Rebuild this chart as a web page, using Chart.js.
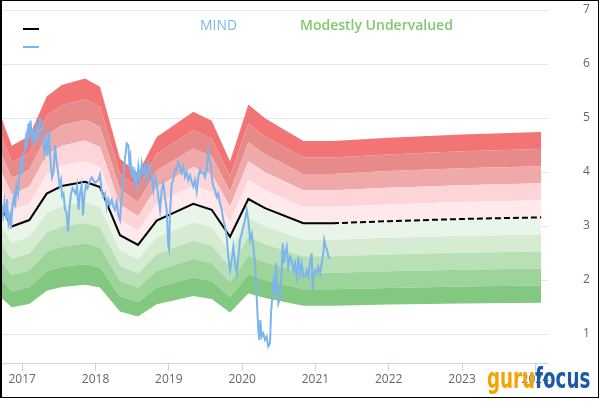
<!DOCTYPE html>
<html lang="en">
<head>
  <meta charset="UTF-8">
  <title>MIND | GF Value</title>
  <script src="https://cdn.jsdelivr.net/npm/chart.js@4.4.0/dist/chart.umd.min.js"></script>
  <style>
    body { margin: 0; background: #fff; font-family: 'Open Sans', sans-serif; }
    #frame { position: absolute; left: 0; top: 0; width: 596px; height: 396px;
             border: 1px solid #000; border-left-width: 2px; }
    #frame canvas { display: block; }
    .title { position: absolute; top: 15px; font-size: 14px; line-height: 19px; white-space: nowrap; }
    .legend-line { position: absolute; left: 23px; width: 16px; height: 2px; }
    #logo { position: absolute; left: 487px; top: 364px; font: bold 29px 'Liberation Sans Narrow', 'DejaVu Sans Condensed', sans-serif;
            line-height: 29px; white-space: nowrap; transform: scaleX(0.70); transform-origin: left top; }
  </style>
</head>
<body>

<div id="frame">
  <canvas id="gfChart" width="596" height="396"></canvas>
</div>

<!-- top texts and legend symbols -->
<div class="title" style="left:200px; color:#7cb5ec;">MIND</div>
<div class="title" style="left:300px; color:#80c96e; font-weight:600;">Modestly Undervalued</div>
<div class="legend-line" style="top:28px; background:#000;"></div>
<div class="legend-line" style="top:46px; background:#7cb5ec;"></div>
<div id="logo"><span style="color:#f5a300">guru</span><span style="color:#1b5aa6">focus</span></div>

<script>
// GF Value line (decimal years), projection after the last solid point
const gfDates  = [2016.697, 2016.857, 2017.097, 2017.334, 2017.539, 2017.857, 2018.061, 2018.334, 2018.580, 2018.835,
                  2019.334, 2019.585, 2019.835, 2020.085, 2020.312, 2020.835, 2021.240, 2022.0, 2023.0, 2024.08];
const gfValues = [3.38, 2.99, 3.11, 3.60, 3.74, 3.82, 3.72, 2.83, 2.65, 3.10,
                  3.41, 3.30, 2.80, 3.50, 3.33, 3.05, 3.05, 3.09, 3.13, 3.16];
const projectionStart = 2021.240;

// band edges as multiples of the GF Value, and fill colours from bottom band to top band
const bandFactors = [0.5, 0.6, 0.7, 0.8, 0.9, 1.0, 1.1, 1.2, 1.3, 1.4, 1.5];
const bandColors  = ['#82c881', '#9dd49a', '#b9dfb6', '#d5ebd2', '#eaf5e9',
                     '#ffe9ec', '#fdd5d9', '#f0a9a9', '#e88a8a', '#f27474'];

// share price
const priceDates = [
  2016.697, 2016.704, 2016.717, 2016.738, 2016.758, 2016.779, 2016.792, 2016.813, 2016.833, 2016.847,
  2016.868, 2016.888, 2016.902, 2016.922, 2016.943, 2016.963, 2016.984, 2016.997, 2017.011, 2017.031,
  2017.052, 2017.065, 2017.086, 2017.099, 2017.113, 2017.134, 2017.154, 2017.175, 2017.195, 2017.215,
  2017.243, 2017.263, 2017.284, 2017.304, 2017.325, 2017.345, 2017.366, 2017.386, 2017.406, 2017.427,
  2017.447, 2017.468, 2017.488, 2017.509, 2017.529, 2017.543, 2017.563, 2017.584, 2017.604, 2017.625,
  2017.645, 2017.666, 2017.686, 2017.707, 2017.727, 2017.748, 2017.768, 2017.788, 2017.809, 2017.829,
  2017.850, 2017.870, 2017.891, 2017.911, 2017.948, 2017.993, 2018.038, 2018.061, 2018.084, 2018.106,
  2018.129, 2018.153, 2018.174, 2018.198, 2018.221, 2018.243, 2018.266, 2018.289, 2018.311, 2018.334,
  2018.357, 2018.379, 2018.402, 2018.426, 2018.447, 2018.461, 2018.475, 2018.494, 2018.507, 2018.525,
  2018.539, 2018.562, 2018.584, 2018.607, 2018.630, 2018.652, 2018.675, 2018.698, 2018.720, 2018.743,
  2018.767, 2018.789, 2018.812, 2018.835, 2018.857, 2018.880, 2018.903, 2018.925, 2018.948, 2018.971,
  2018.993, 2019.003, 2019.016, 2019.039, 2019.061, 2019.085, 2019.108, 2019.129, 2019.153, 2019.176,
  2019.198, 2019.221, 2019.244, 2019.266, 2019.289, 2019.312, 2019.334, 2019.357, 2019.380, 2019.402,
  2019.426, 2019.449, 2019.471, 2019.494, 2019.517, 2019.539, 2019.553, 2019.572, 2019.585, 2019.607,
  2019.630, 2019.653, 2019.675, 2019.698, 2019.722, 2019.743, 2019.767, 2019.790, 2019.812, 2019.835,
  2019.858, 2019.880, 2019.903, 2019.926, 2019.948, 2019.971, 2019.994, 2020.016, 2020.040, 2020.063,
  2020.085, 2020.108, 2020.131, 2020.153, 2020.176, 2020.199, 2020.221, 2020.235, 2020.248, 2020.267,
  2020.289, 2020.312, 2020.335, 2020.357, 2020.381, 2020.394, 2020.412, 2020.431, 2020.449, 2020.462,
  2020.476, 2020.494, 2020.517, 2020.540, 2020.554, 2020.572, 2020.585, 2020.608, 2020.630, 2020.653,
  2020.677, 2020.699, 2020.722, 2020.745, 2020.767, 2020.790, 2020.813, 2020.835, 2020.858, 2020.881,
  2020.903, 2020.926, 2020.949, 2020.963, 2020.977, 2020.994, 2021.017, 2021.039, 2021.063, 2021.086,
  2021.108, 2021.121, 2021.140, 2021.158, 2021.176, 2021.203
];
const priceValues = [
  3.30, 2.90, 3.40, 3.20, 3.45, 3.15, 3.50, 3.05, 3.20, 2.95,
  3.40, 3.55, 3.35, 3.75, 3.60, 3.95, 4.15, 3.95, 4.30, 4.40,
  4.65, 4.45, 4.90, 4.75, 4.95, 4.60, 4.75, 4.50, 4.85, 4.70,
  4.98, 4.95, 4.60, 4.35, 4.60, 4.30, 4.75, 4.20, 3.90, 4.00,
  4.50, 4.20, 4.00, 3.75, 3.85, 3.55, 3.60, 3.30, 3.25, 2.90,
  3.35, 3.60, 3.70, 3.65, 3.60, 3.75, 3.30, 3.60, 3.75, 3.20,
  3.60, 3.75, 3.70, 3.80, 3.90, 3.80, 3.85, 3.95, 3.65, 3.54,
  3.60, 3.35, 3.50, 3.39, 3.48, 3.36, 3.30, 3.45, 3.20, 3.11,
  3.54, 3.91, 4.25, 4.53, 4.50, 4.16, 4.28, 3.91, 4.10, 3.85,
  3.98, 3.73, 4.10, 3.85, 4.16, 3.98, 4.10, 3.85, 4.16, 4.04,
  3.91, 3.67, 3.91, 3.79, 3.54, 3.30, 3.67, 3.79, 3.54, 3.30,
  2.63, 2.57, 3.24, 3.79, 3.85, 4.05, 4.04, 4.19, 4.10, 3.98,
  4.10, 3.91, 4.00, 3.85, 3.94, 3.82, 3.73, 3.85, 3.64, 3.91,
  4.04, 3.98, 4.00, 3.91, 4.04, 4.38, 4.22, 4.16, 3.91, 3.73,
  3.67, 3.54, 3.60, 3.42, 3.30, 3.11, 2.99, 2.80, 2.43, 2.18,
  2.37, 2.62, 2.31, 2.12, 2.43, 2.74, 2.86, 2.99, 3.11, 3.30,
  3.11, 2.74, 2.86, 2.62, 2.31, 1.68, 1.07, 0.89, 1.26, 0.95,
  1.01, 0.89, 0.95, 0.77, 0.83, 1.38, 1.68, 2.00, 1.81, 2.31,
  2.00, 1.57, 1.68, 2.18, 2.68, 2.31, 2.49, 2.62, 2.24, 2.43,
  2.37, 2.18, 2.31, 2.06, 2.43, 2.12, 2.31, 2.06, 2.06, 2.18,
  2.06, 2.31, 2.49, 1.81, 2.12, 2.18, 2.12, 2.24, 2.12, 2.31,
  2.49, 2.74, 2.62, 2.56, 2.43, 2.40
];

const yearMin = 2016.724, yearMax = 2024.173;
const priceMin = 0.463, priceMax = 7;

// --- build datasets ---
const toPoints = (xs, ys) => xs.map((x, i) => ({ x: x, y: ys[i] }));

const bandSets = bandFactors.map((f, i) => ({
  data: toPoints(gfDates, gfValues.map(v => v * f)),
  borderWidth: 0,
  pointRadius: 0,
  fill: i === 0 ? false : '-1',
  backgroundColor: i === 0 ? 'transparent' : bandColors[i - 1],
  order: 3,
  clip: 0
}));

const gfLine = {
  data: toPoints(gfDates, gfValues),
  borderColor: '#000',
  borderWidth: 2,
  pointRadius: 0,
  fill: false,
  order: 2,
  clip: 0,
  segment: {
    borderDash: ctx => ctx.p0.parsed.x >= projectionStart - 1e-6 ? [6, 3] : undefined
  }
};

const priceLine = {
  data: toPoints(priceDates, priceValues),
  borderColor: '#7cb5ec',
  borderWidth: 2,
  pointRadius: 0,
  fill: false,
  order: 1,
  clip: 0
};

Chart.defaults.font.family = "'Open Sans', sans-serif";

// tick padding also pads the axis ends in Chart.js, so drop that after fitting
function noEndPadding(s) {
  s.paddingTop = 0; s.paddingBottom = 0; s.paddingLeft = 0; s.paddingRight = 0;
}

new Chart(document.getElementById('gfChart'), {
  type: 'line',
  data: { datasets: bandSets.concat([gfLine, priceLine]) },
  options: {
    responsive: false,
    animation: false,
    layout: { padding: { top: 9, left: 0, right: 0, bottom: 0 } },
    plugins: { legend: { display: false }, tooltip: { enabled: false } },
    scales: {
      x: {
        type: 'linear',
        min: yearMin,
        max: yearMax,
        border: { color: '#ccd6eb', width: 1 },
        grid: { drawOnChartArea: false, tickColor: '#ccd6eb', tickLength: 8 },
        ticks: {
          stepSize: 1, includeBounds: false, autoSkip: false, maxRotation: 0,
          color: '#666', font: { size: 12 }, padding: 1,
          callback: v => String(v)
        },
        afterFit: s => { s.height = 34; noEndPadding(s); }
      },
      y: {
        position: 'right',
        min: priceMin,
        max: priceMax,
        border: { display: false },
        grid: { color: '#e6e6e6', drawTicks: false },
        ticks: { stepSize: 1, includeBounds: false, color: '#666', font: { size: 12 }, padding: 35 },
        afterFit: s => { s.width = 50; noEndPadding(s); }
      }
    }
  }
});
</script>

</body>
</html>
